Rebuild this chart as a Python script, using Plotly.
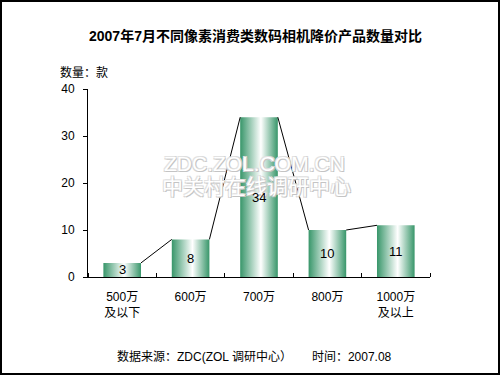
import plotly.graph_objects as go

categories = ["500万<br>及以下", "600万", "700万", "800万", "1000万<br>及以上"]
values = [3, 8, 34, 10, 11]
y_ticks = [0, 10, 20, 30, 40]

title_text = "2007年7月不同像素消费类数码相机降价产品数量对比"
y_label = "数量：款"
footer = "数据来源：ZDC(ZOL 调研中心）      时间：2007.08"

FONT = "Liberation Sans, Arial, Noto Sans CJK SC"
half = 0.275
grad = [[0, "#38966a"], [0.55, "#ffffff"], [1, "#38966a"]]

fig = go.Figure()

for i, v in enumerate(values):
    fig.add_trace(go.Scatter(
        x=[i - half, i - half, i + half, i + half, i - half],
        y=[0, v, v, 0, 0],
        mode="lines", fill="toself",
        fillgradient=dict(type="horizontal", colorscale=grad),
        line=dict(width=0, color="rgba(0,0,0,0)"),
        hoverinfo="skip", showlegend=False,
    ))

lx, ly = [], []
for i in range(len(values) - 1):
    lx += [i + half, i + 1 - half, None]
    ly += [values[i], values[i + 1], None]
fig.add_trace(go.Scatter(x=lx, y=ly, mode="lines",
                         line=dict(color="black", width=1),
                         hoverinfo="skip", showlegend=False))

fig.update_layout(
    width=500, height=375,
    margin=dict(l=88, r=70, t=89, b=98),
    paper_bgcolor="white", plot_bgcolor="white",
    showlegend=False,
    xaxis=dict(
        range=[-0.5, 4.5], tickmode="array",
        tickvals=list(range(len(categories))), ticktext=categories,
        ticks="", showgrid=False, zeroline=False,
        showline=True, linecolor="black", linewidth=1,
        tickfont=dict(family=FONT, size=12, color="black"),
        ticklabelstandoff=9,
        minor=dict(tickmode="linear", tick0=0.5, dtick=1, ticks="inside",
                   ticklen=4, tickcolor="black", showgrid=False),
        fixedrange=True,
    ),
    yaxis=dict(
        range=[0, 40], tickmode="array", tickvals=y_ticks,
        ticks="outside", ticklen=4, tickcolor="black",
        showgrid=False, zeroline=False,
        showline=True, linecolor="black", linewidth=1,
        tickfont=dict(family=FONT, size=12, color="black"),
        ticklabelstandoff=6,
        fixedrange=True,
    ),
)

W, H = 500, 375
pl, pr, pt, pb = 88, 70, 89, 98
pw, ph = W - pl - pr, H - pt - pb

def px(xp):
    return (xp - pl) / pw

def py(yp):
    return (H - pb - yp) / ph

def note(text, x, y, size=12, xanchor="center", **font_extra):
    fig.add_annotation(text=text, xref="paper", yref="paper",
                       x=px(x), y=py(y), xanchor=xanchor, yanchor="middle",
                       showarrow=False,
                       font=dict(family=font_extra.pop("family", FONT), size=size,
                                 color=font_extra.pop("color", "black"), **font_extra))

note("<b>" + title_text + "</b>", 255, 36, size=14)
note(y_label, 58, 72, xanchor="left")
note(footer, 254, 356)

wm_shadow = "1px 1px 0px #c4c4c4, -1px -1px 0px #e2e2e2, 1px -1px 0px #d6d6d6, -1px 1px 0px #d6d6d6"
note("ZDC.ZOL.COM.CN", 254, 163, size=21, color="white", shadow=wm_shadow)
note("中关村在线调研中心", 256, 185, size=21, color="white", shadow=wm_shadow,
     family="Noto Sans CJK SC")

# value labels on top of watermark
for i, v in enumerate(values):
    fig.add_annotation(text=str(v), x=i, y=v / 2, xref="x", yref="y",
                       showarrow=False, xanchor="center", yanchor="middle",
                       font=dict(family=FONT, size=13, color="black"))

fig.add_shape(type="rect", xref="paper", yref="paper",
              x0=px(1), x1=px(499), y0=py(374), y1=py(1),
              line=dict(color="black", width=2), fillcolor="rgba(0,0,0,0)", layer="above")

fig.write_html("out.html", config={"displayModeBar": False},
               post_script="document.body.style.margin='0';document.body.style.padding='0';")
